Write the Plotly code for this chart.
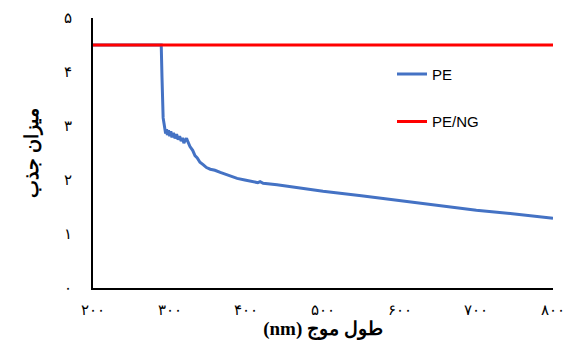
import plotly.graph_objects as go

wl_pe = [200, 289, 290, 290.5, 291.5, 292.6, 293.5, 294.7, 296, 297, 298.5, 300, 301.5, 303, 305, 307,
         309, 311, 313, 315, 317, 318.5, 320, 322, 324, 326.5, 330, 333, 336, 339.5, 344, 348, 353,
         359, 366, 372, 379, 388, 398, 409, 415, 418, 422, 440, 460, 480, 500, 550, 600, 650, 700,
         750, 800]
abs_pe = [4.5, 4.5, 3.9, 3.3, 3.15, 3.05, 2.95, 2.86, 2.94, 2.83, 2.92, 2.81, 2.90, 2.79, 2.87, 2.77,
          2.85, 2.75, 2.81, 2.72, 2.78, 2.68, 2.73, 2.77, 2.70, 2.62, 2.55, 2.45, 2.41, 2.33, 2.28, 2.23, 2.20,
          2.18, 2.14, 2.11, 2.07, 2.03, 2.00, 1.97, 1.95, 1.97, 1.94, 1.91, 1.87, 1.83, 1.79, 1.71, 1.62,
          1.53, 1.44, 1.37, 1.29]

wl_ng = [200, 800]
abs_ng = [4.5, 4.5]

x_ticks = [200, 300, 400, 500, 600, 700, 800]
x_labels = ["۲۰۰", "۳۰۰", "۴۰۰", "۵۰۰", "۶۰۰", "۷۰۰", "۸۰۰"]
y_ticks = [0, 1, 2, 3, 4, 5]
y_labels = ["۰", "۱", "۲", "۳", "۴", "۵"]

fig = go.Figure()
fig.add_trace(go.Scatter(x=wl_pe, y=abs_pe, mode="lines", name="PE", legendgroup="a",
                         line=dict(color="#4472C4", width=3)))
fig.add_trace(go.Scatter(x=wl_ng, y=abs_ng, mode="lines", name="PE/NG", legendgroup="b",
                         line=dict(color="#FF0000", width=3)))

fig.update_layout(
    width=574, height=349,
    margin=dict(l=85, r=29, t=10, b=69),
    paper_bgcolor="white", plot_bgcolor="white",
    font=dict(family="Liberation Serif, DejaVu Serif, serif", color="black", size=15),
    legend=dict(x=0.65, y=0.853, xanchor="left", yanchor="top",
                font=dict(family="Liberation Sans, Arial, sans-serif", size=15, color="black"),
                tracegroupgap=25, bgcolor="rgba(0,0,0,0)"),
    xaxis=dict(range=[200, 800], tickvals=x_ticks, ticktext=x_labels, showgrid=False,
               zeroline=False, showline=True, linecolor="black", linewidth=2, ticks="",
               ticklabelstandoff=7, automargin=False,
               title=dict(text="<b>(nm) طول موج</b>", font=dict(size=19), standoff=3)),
    yaxis=dict(range=[0, 5], tickvals=y_ticks, ticktext=y_labels, showgrid=False,
               zeroline=False, showline=True, linecolor="black", linewidth=2, ticks="",
               ticklabelstandoff=16, automargin=False,
               title=dict(text="<b>میزان جذب</b>", font=dict(size=19), standoff=20)),
)

fig.write_html("out.html")
